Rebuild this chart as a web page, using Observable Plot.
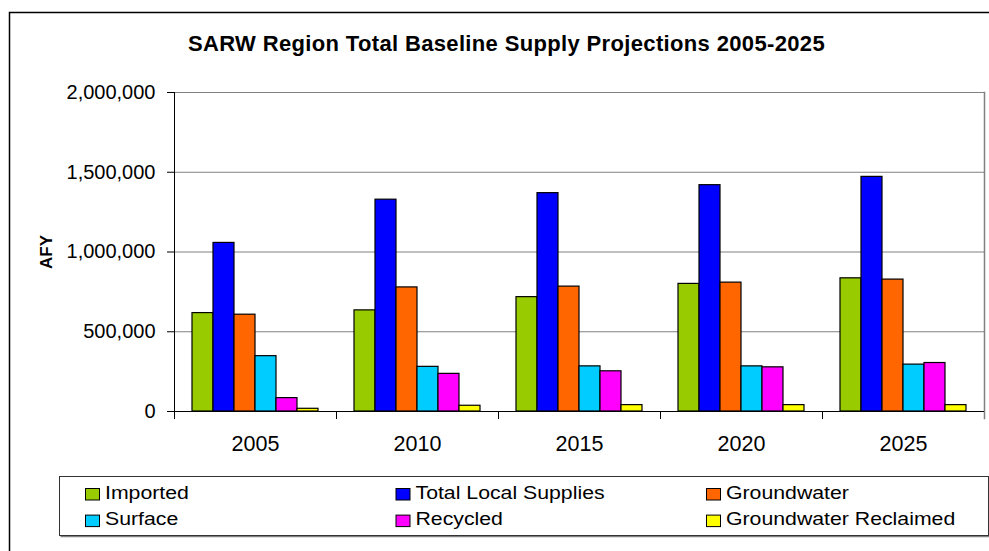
<!DOCTYPE html>
<html>
<head>
<meta charset="utf-8">
<script src="https://cdn.jsdelivr.net/npm/d3@7"></script>
<script src="https://cdn.jsdelivr.net/npm/@observablehq/plot@0.6"></script>
<style>
html, body { margin: 0; padding: 0; background: #fff; }
#chart svg { display: block; }
</style>
</head>
<body>
<div id="chart"></div>
<script>
// ---- Data ----
const titleText = "SARW Region Total Baseline Supply Projections 2005-2025";
const yLabel = "AFY";
const years = ["2005", "2010", "2015", "2020", "2025"];
const series = ["Imported", "Total Local Supplies", "Groundwater", "Surface", "Recycled", "Groundwater Reclaimed"];
const seriesColors = ["#99CC00", "#0000FF", "#FF6600", "#00CCFF", "#FF00FF", "#FFFF00"];
const imported = [617000, 634000, 717000, 800000, 835000];
const totalLocalSupplies = [1057000, 1328000, 1369000, 1419000, 1471000];
const groundwater = [607000, 778000, 783000, 808000, 827000];
const surface = [347000, 280000, 283000, 283000, 294000];
const recycled = [84000, 236000, 252000, 277000, 304000];
const groundwaterReclaimed = [17000, 36000, 40000, 40000, 40000];
const yTicks = [0, 500000, 1000000, 1500000, 2000000];

const seriesValues = [imported, totalLocalSupplies, groundwater, surface, recycled, groundwaterReclaimed];
const data = years.flatMap((yr, i) => series.map((s, j) => ({year: yr, series: s, value: seriesValues[j][i]})));

// ---- Layout ----
const W = 989, H = 551;
const mT = 92, mB = 140, mL = 174, mR = 5;
const plotH = H - mT - mB;
const font = "'Liberation Sans', Arial, Helvetica, sans-serif";

const plot = Plot.plot({
  width: W,
  height: H,
  marginTop: mT,
  marginBottom: mB,
  marginLeft: mL,
  marginRight: mR,
  style: {fontFamily: font, background: "white", color: "black", overflow: "visible"},
  fx: {domain: years, padding: 0, label: null},
  x: {domain: series, paddingInner: 0, paddingOuter: 0.74, axis: null},
  y: {domain: [0, 2000000], label: null},
  color: {domain: series, range: seriesColors},
  marks: [
    Plot.gridY(yTicks, {stroke: "#808080", strokeOpacity: 1, strokeWidth: 1}),
    Plot.frame({anchor: "left", insetTop: plotH, insetBottom: -7, stroke: "black", strokeWidth: 1}),
    Plot.frame({anchor: "right", insetBottom: -7, stroke: "#808080", strokeWidth: 1.5, facetAnchor: "right"}),
    Plot.frame({anchor: "left", insetBottom: -7, stroke: "black", strokeWidth: 1, facetAnchor: "left"}),
    Plot.barY(data, {fx: "year", x: "series", y: "value", fill: "series", stroke: "black", strokeWidth: 1.2}),
    Plot.ruleY([0], {stroke: "black", strokeWidth: 1}),
    Plot.axisY(yTicks, {tickSize: 7, tickPadding: 12, tickFormat: d3.format(","), fontSize: 20, label: null}),
    Plot.axisFx({anchor: "bottom", tickSize: 0, tickPadding: 24, fontSize: 21.5, label: null})
  ]
});

const svg = d3.select(plot);
svg.attr("font-family", font);

// outer chart border (extends past the picture's right/bottom edges)
svg.append("rect")
  .attr("x", 9.5).attr("y", 12.5)
  .attr("width", W + 20).attr("height", H + 20)
  .attr("fill", "none").attr("stroke", "black").attr("stroke-width", 1.5);

// title
svg.append("text")
  .attr("x", 506.5).attr("y", 51)
  .attr("text-anchor", "middle")
  .attr("font-weight", "bold")
  .attr("font-size", 22)
  .attr("letter-spacing", "0.35px")
  .attr("fill", "black")
  .text(titleText);

// y-axis title
svg.append("text")
  .attr("transform", "translate(52,252) rotate(-90)")
  .attr("text-anchor", "middle")
  .attr("font-weight", "bold")
  .attr("font-size", 17)
  .attr("fill", "black")
  .text(yLabel);

// legend
const color = plot.scale("color");
const lgX = 59.5, lgY = 476.5, lgW = 929, lgH = 59;
const lg = svg.append("g").attr("text-anchor", "start");
lg.append("line")
  .attr("x1", lgX + 1).attr("x2", lgX + lgW + 1)
  .attr("y1", lgY + lgH + 1).attr("y2", lgY + lgH + 1)
  .attr("stroke", "#808080").attr("stroke-width", 1.5);
lg.append("line")
  .attr("x1", lgX + lgW + 1).attr("x2", lgX + lgW + 1)
  .attr("y1", lgY + 1).attr("y2", lgY + lgH + 1)
  .attr("stroke", "#808080").attr("stroke-width", 1.5);
lg.append("rect")
  .attr("x", lgX).attr("y", lgY).attr("width", lgW).attr("height", lgH)
  .attr("fill", "white").attr("stroke", "#333").attr("stroke-width", 1);
const colStep = 310.5, rowStep = 26.6;
series.forEach((s, i) => {
  const col = i % 3, row = Math.floor(i / 3);
  const sx = 85.5 + col * colStep;
  const sy = 488.5 + row * rowStep;
  lg.append("rect")
    .attr("x", sx).attr("y", sy).attr("width", 14).attr("height", 11.5)
    .attr("fill", color.apply(s)).attr("stroke", "black").attr("stroke-width", 1);
  lg.append("text")
    .attr("transform", `translate(${sx + 19.5},${498.5 + row * rowStep}) scale(1.15,1)`)
    .attr("text-anchor", "start")
    .attr("font-size", 18.5)
    .attr("fill", "black")
    .text(s);
});

document.getElementById("chart").appendChild(plot);
</script>
</body>
</html>
